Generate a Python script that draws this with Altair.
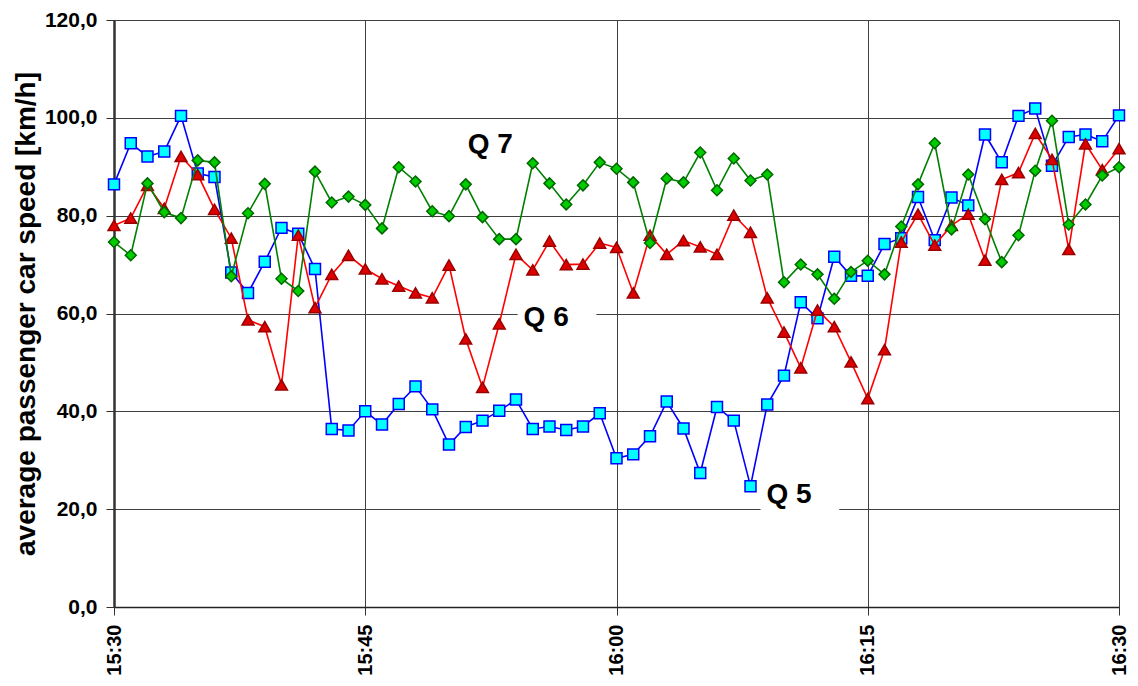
import altair as alt
import pandas as pd

# ---- data ----
minutes = list(range(61))
tick_values = [0, 15, 30, 45, 60]
tick_labels = ["15:30", "15:45", "16:00", "16:15", "16:30"]
y_ticks = [0, 20, 40, 60, 80, 100, 120]

q5 = [86.4, 94.8, 92.1, 93.1, 100.4, 88.6, 87.9, 68.4, 64.2, 70.6,
      77.5, 76.3, 69.1, 36.4, 36.1, 40.0, 37.3, 41.5, 45.1, 40.4,
      33.2, 36.8, 38.1, 40.1, 42.4, 36.4, 36.9, 36.2, 36.9, 39.6,
      30.4, 31.2, 34.9, 42.0, 36.5, 27.4, 40.9, 38.1, 24.7, 41.4,
      47.3, 62.3, 59.0, 71.6, 67.7, 67.7, 74.2, 75.4, 83.8, 75.0,
      83.7, 82.1, 96.6, 90.9, 100.4, 101.9, 90.2, 96.1, 96.6, 95.2, 100.5]
q6 = [78.0, 79.5, 86.2, 81.5, 92.1, 88.4, 81.3, 75.4, 58.7, 57.3,
      45.4, 76.0, 61.2, 68.0, 71.9, 69.1, 67.1, 65.6, 64.2, 63.2,
      69.9, 54.8, 44.9, 57.9, 72.1, 68.9, 74.8, 70.0, 70.1, 74.4,
      73.5, 64.2, 76.0, 72.1, 74.9, 73.6, 72.1, 80.1, 76.6, 63.2,
      56.2, 48.9, 60.7, 57.3, 50.1, 42.6, 52.6, 74.6, 80.3, 74.0,
      78.0, 80.3, 70.9, 87.4, 88.8, 96.8, 91.5, 73.1, 94.7, 89.4, 93.7]
q7 = [74.6, 71.9, 86.6, 80.7, 79.5, 91.3, 90.9, 67.6, 80.5, 86.5,
      67.1, 64.6, 89.0, 82.7, 83.9, 82.2, 77.4, 89.9, 87.0, 80.9,
      79.9, 86.4, 79.7, 75.2, 75.2, 90.7, 86.6, 82.3, 86.2, 90.9,
      89.6, 86.8, 74.4, 87.6, 86.8, 92.9, 85.2, 91.7, 87.2, 88.4,
      66.4, 70.0, 68.0, 63.0, 68.5, 70.8, 68.0, 77.8, 86.4, 94.8,
      77.2, 88.4, 79.3, 70.5, 76.0, 89.2, 99.4, 78.2, 82.3, 88.2, 89.9]

labels = ["Q 7", "Q 6", "Q 5"]
label_x = [22.46, 25.8, 40.3]
label_y = [94.5, 59.1, 22.8]
label_box = [False, True, True]
box_x0 = [22.0, 24.1, 38.6]
box_x1 = [22.0, 28.8, 43.3]
box_y0 = [94.5, 55.8, 19.4]
box_y1 = [94.5, 61.9, 25.9]

FONT = "Liberation Sans"

label_expr = "[" + ",".join("'%s'" % t for t in tick_labels) + "][datum.value / 15]"

x_enc = alt.X(
    "minute:Q",
    scale=alt.Scale(domain=[0, 60], nice=False, zero=False),
    axis=alt.Axis(
        values=tick_values, labelExpr=label_expr, title=None,
        labelAngle=-90, labelAlign="right", labelBaseline="middle",
        labelFontSize=20, labelFontWeight="bold", labelColor="#000",
        tickSize=8, labelPadding=9, tickColor="#333", domainColor="#222",
        domainWidth=1.5, grid=True, gridColor="#404040", gridWidth=1, gridOpacity=1,
    ),
)
y_enc = alt.Y(
    "speed:Q",
    scale=alt.Scale(domain=[0, 120], nice=False),
    axis=alt.Axis(
        values=y_ticks,
        labelExpr="replace(format(datum.value, '.1f'), '.', ',')",
        title="average passenger car speed [km/h]",
        labelFontSize=21, labelFontWeight="bold", labelColor="#000",
        tickSize=8, labelPadding=9, tickColor="#333", domainColor="#333",
        domainWidth=2.5, grid=True, gridColor="#404040", gridWidth=1, gridOpacity=1,
        titleFontSize=28, titleFontWeight="bold", titleColor="#000",
        titleX=-88, titleY=293.5, titleAngle=-90, titleAlign="center",
        titleBaseline="middle",
    ),
)

series = [
    ("Q5", q5, "square", "#0000FF", "#00FFFF", "#0000FF", 120),
    ("Q6", q6, "triangle-up", "#FF0000", "#DD0000", "#990000", 140),
    ("Q7", q7, "diamond", "#008000", "#00CC00", "#006600", 120),
]

ann = pd.DataFrame({"label": labels, "minute": label_x, "speed": label_y, "box": label_box,
                    "bx0": box_x0, "bx1": box_x1, "by0": box_y0, "by1": box_y1})
box_df = ann[ann["box"]].copy()
box_df = pd.DataFrame({"minute": box_df["bx0"], "minute2": box_df["bx1"],
                       "speed": box_df["by0"], "speed2": box_df["by1"]})

layers = []
for name, vals, shape, line_c, fill_c, stroke_c, size in series:
    df = pd.DataFrame({"minute": minutes, "speed": vals})
    base = alt.Chart(df).encode(x=x_enc, y=y_enc)
    layers.append(base.mark_line(color=line_c, strokeWidth=1.6))
    layers.append(base.mark_point(shape=shape, filled=True, fill=fill_c, stroke=stroke_c,
                                  strokeWidth=1.5, size=size, opacity=1))

boxes = alt.Chart(box_df).mark_rect(color="white").encode(
    x=x_enc, x2="minute2:Q", y=y_enc, y2="speed2:Q",
)
text = alt.Chart(ann).mark_text(font=FONT, fontSize=28, fontWeight="bold", color="#000",
                                align="center", baseline="middle").encode(
    x=x_enc, y=y_enc, text="label:N",
)

chart = alt.layer(boxes, *layers, text).properties(
    width=1005, height=587,
    autosize=alt.AutoSizeParams(type="none"),
    padding={"left": 106, "top": 12, "right": 11, "bottom": 71},
).configure(font=FONT).configure_view(stroke=None)

chart.save("out.html", embed_options={"renderer": "svg", "actions": False})
